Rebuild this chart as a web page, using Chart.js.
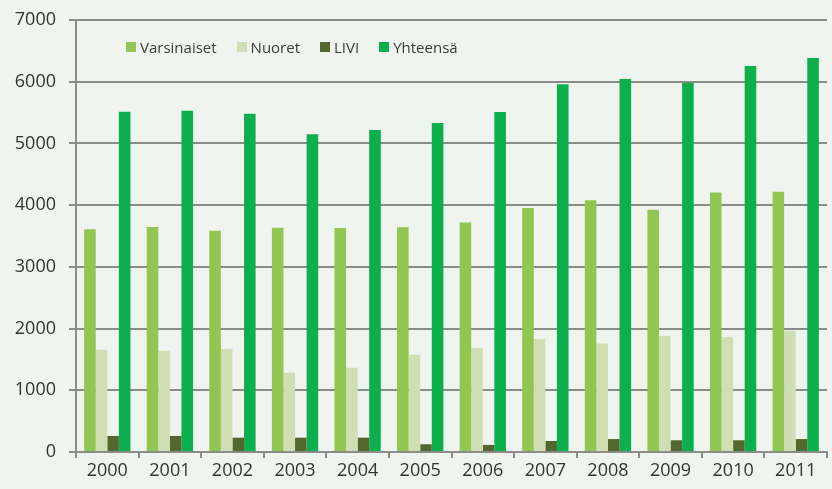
<!DOCTYPE html>
<html>
<head>
<meta charset="utf-8">
<script src="https://cdn.jsdelivr.net/npm/chart.js@4/dist/chart.umd.min.js"></script>
<style>
  html, body { margin: 0; padding: 0; background: #eff4ee; }
  #wrap { position: relative; width: 832px; height: 489px; }
  #legend { position: absolute; left: 126px; top: 37px; display: flex; font-family: "Open Sans", sans-serif; font-size: 15px; color: #3b3b3b; }
  #legend .item { display: flex; align-items: center; margin-right: 20px; }
  #legend .box { width: 10px; height: 10px; margin-right: 4px; }
</style>
</head>
<body>
<div id="wrap">
  <canvas id="chart" width="832" height="489"></canvas>
  <div id="legend"></div>
</div>
<script>
// years on the x axis
const years = ['2000', '2001', '2002', '2003', '2004', '2005', '2006', '2007', '2008', '2009', '2010', '2011'];

// values
const varsinaiset = [3610, 3645, 3585, 3635, 3630, 3640, 3720, 3955, 4080, 3925, 4205, 4215];
const nuoret      = [1655, 1640, 1670, 1285, 1365, 1575, 1685, 1830, 1760, 1880, 1860, 1965];
const livi        = [260, 260, 232, 232, 232, 125, 115, 178, 210, 190, 190, 210];
const yhteensa    = [5515, 5530, 5480, 5148, 5218, 5330, 5510, 5960, 6044, 5980, 6255, 6385];

const yTicks = [0, 1000, 2000, 3000, 4000, 5000, 6000, 7000];

const gridColor = '#8a8c88';
const textColor = '#333333';
const font = { family: 'Open Sans', size: 18 };

const chart = new Chart(document.getElementById('chart'), {
  type: 'bar',
  data: {
    labels: years,
    datasets: [
      { label: 'Varsinaiset', data: varsinaiset, backgroundColor: '#92c653' },
      { label: 'Nuoret', data: nuoret, backgroundColor: '#cfdfb3' },
      { label: 'LIVI', data: livi, backgroundColor: '#52682e' },
      { label: 'Yhteensä', data: yhteensa, backgroundColor: '#0bb04c' }
    ]
  },
  options: {
    responsive: false,
    animation: false,
    layout: { padding: { top: 20, right: 5, left: 0, bottom: 0 } },
    datasets: { bar: { barPercentage: 1, categoryPercentage: 0.74 } },
    plugins: {
      legend: { display: false },
      tooltip: { enabled: false }
    },
    scales: {
      x: {
        grid: { offset: true, drawOnChartArea: false, drawTicks: true, tickLength: 6, color: gridColor, lineWidth: 2 },
        border: { display: true, color: gridColor, width: 2 },
        ticks: { color: textColor, font: font, padding: 2 },
        afterFit: function (scale) { scale.height = 37; scale.paddingLeft = 0; scale.paddingRight = 0; }
      },
      y: {
        min: 0,
        max: 7000,
        afterBuildTicks: function (scale) { scale.ticks = yTicks.map(v => ({ value: v })); },
        grid: { color: gridColor, lineWidth: 2, drawTicks: true, tickLength: 7 },
        border: { display: true, color: gridColor, width: 2 },
        ticks: { color: textColor, font: font, padding: 13, callback: v => String(v) },
        afterFit: function (scale) { scale.width = 76; scale.paddingTop = 0; scale.paddingBottom = 0; }
      }
    }
  }
});

// legend inside the plot, top-left
const legend = document.getElementById('legend');
chart.data.datasets.forEach(ds => {
  const item = document.createElement('div');
  item.className = 'item';
  const box = document.createElement('span');
  box.className = 'box';
  box.style.background = ds.backgroundColor;
  const txt = document.createElement('span');
  txt.textContent = ds.label;
  item.appendChild(box);
  item.appendChild(txt);
  legend.appendChild(item);
});
</script>
</body>
</html>
